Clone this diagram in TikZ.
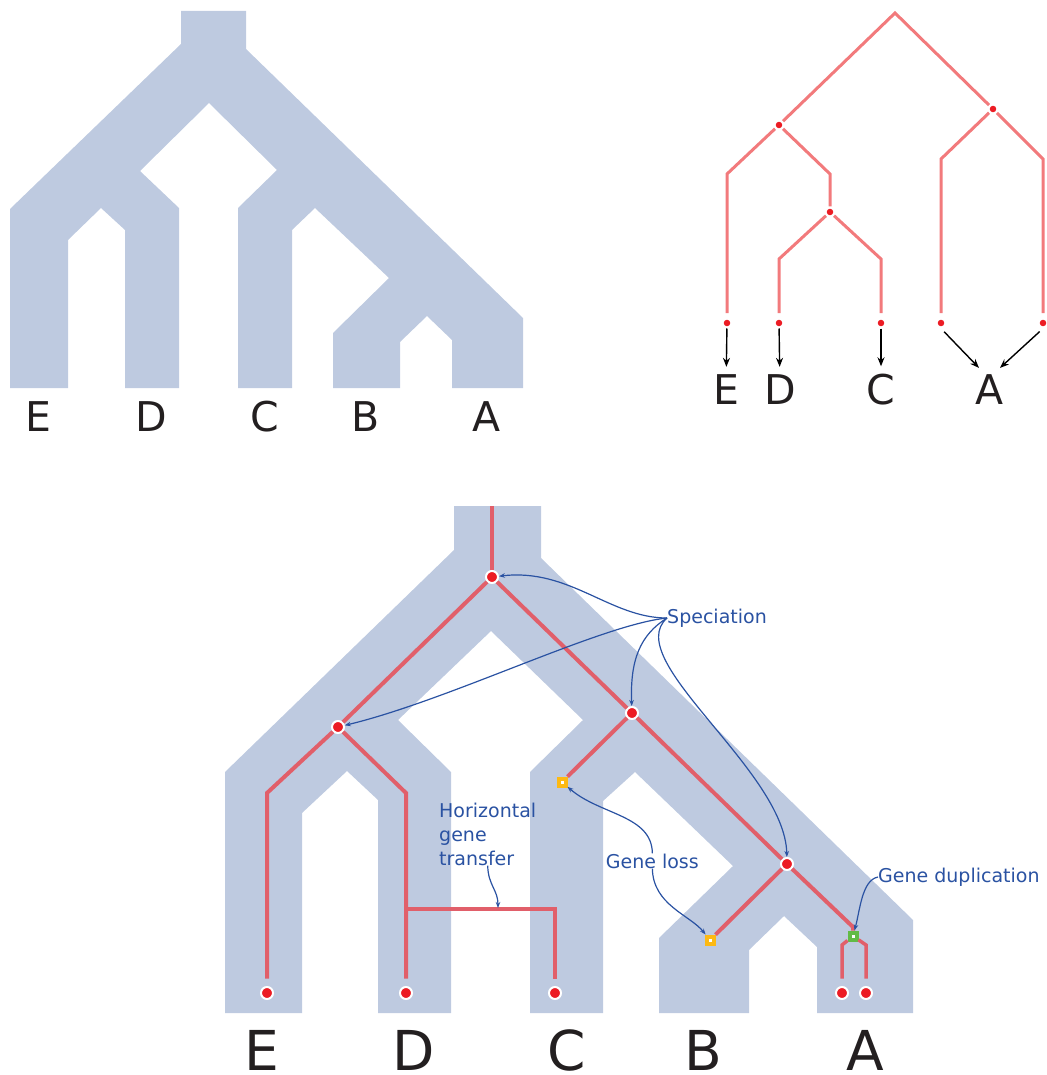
\documentclass[tikz,border=0pt]{standalone}
\usepackage{fontspec}
\setmainfont{DejaVu Sans}
\usetikzlibrary{arrows.meta}
\definecolor{bandblue}{RGB}{190,202,224}
\definecolor{genered}{RGB}{225,95,106}
\definecolor{treered}{RGB}{242,122,124}
\definecolor{dotred}{RGB}{236,28,36}
\definecolor{lossorange}{RGB}{253,185,19}
\definecolor{dupgreen}{RGB}{98,187,70}
\definecolor{noteblue}{RGB}{42,82,162}
\definecolor{taxonblack}{RGB}{35,31,32}
\begin{document}
\begin{tikzpicture}[x=1pt,y=-1pt,
		band/.style={fill=bandblue},
		gline/.style={draw=genered,line width=4pt},
		tline/.style={draw=treered,line width=3pt},
		gdot/.style={circle,fill=dotred,draw=white,line width=2pt,minimum size=12pt,inner sep=0pt},
		tdot/.style={circle,fill=dotred,draw=white,line width=2pt,minimum size=9pt,inner sep=0pt},
		lossbox/.style={rectangle,fill=white,draw=lossorange,line width=4pt,minimum size=7pt,inner sep=0pt},
		dupbox/.style={rectangle,fill=white,draw=dupgreen,line width=4pt,minimum size=7pt,inner sep=0pt},
		bigtaxon/.style={text=taxonblack,inner sep=0pt,font=\fontsize{55}{60}\selectfont},
		taxon/.style={text=taxonblack,inner sep=0pt,font=\fontsize{41}{46}\selectfont},
		note/.style={text=noteblue,inner sep=0pt,font=\fontsize{19}{24}\selectfont},
		notearrow/.style={draw=noteblue,line width=1.2pt,-{Stealth[length=6pt,width=4.5pt]}},
		taxonarrow/.style={draw=black,line width=1.4pt,-{Stealth[length=9pt,width=7pt]}}]
		\useasboundingbox (0,0) rectangle (1046,1075);
		
		\fill[band] (181,11) -- (246,11) -- (246,49) -- (523,318) -- (523,388) -- (452,388) -- (452,340) -- (427,316) -- (400,342) -- (400,388) -- (333,388) -- (333,333) -- (389,278) -- (315,208) -- (292,230) -- (292,388) -- (238,388) -- (238,208) -- (277,170) -- (209,103) -- (140,171) -- (179,208) -- (179,388) -- (125,388) -- (125,230) -- (101,208) -- (68,240) -- (68,388) -- (10,388) -- (10,209) -- (181,44) -- cycle;
		\node[taxon] (sE) at (38,417) {E};
		\node[taxon] (sD) at (151,417) {D};
		\node[taxon] (sC) at (265,417) {C};
		\node[taxon] (sB) at (366,417) {B};
		\node[taxon] (sA) at (487,417) {A};
		
		\coordinate (t0) at (895,13);
		\node[tdot] (tL) at (779,125) {};
		\node[tdot] (tR) at (993,109) {};
		\node[tdot] (tM) at (830,212) {};
		\coordinate (tLa) at (727,174);
		\coordinate (tLb) at (830,174);
		\coordinate (tMa) at (779,259);
		\coordinate (tMb) at (881,259);
		\coordinate (tRa) at (941,159);
		\coordinate (tRb) at (1043,159);
		\node[tdot] (te) at (727,323) {};
		\node[tdot] (td) at (779,323) {};
		\node[tdot] (tc) at (881,323) {};
		\node[tdot] (ta1) at (941,323) {};
		\node[tdot] (ta2) at (1043,323) {};
		\node[taxon] (tE) at (726,390) {E};
		\node[taxon] (tD) at (780,390) {D};
		\node[taxon] (tC) at (881,390) {C};
		\node[taxon] (tA) at (990,390) {A};
		
		\draw[tline] (tL) -- (t0) -- (tR);
		\draw[tline,shorten >=4.5pt] (tL) -- (tLa) -- (te);
		\draw[tline] (tL) -- (tLb) -- (tM);
		\draw[tline,shorten >=4.5pt] (tM) -- (tMa) -- (td);
		\draw[tline,shorten >=4.5pt] (tM) -- (tMb) -- (tc);
		\draw[tline,shorten >=4.5pt] (tR) -- (tRa) -- (ta1);
		\draw[tline,shorten >=4.5pt] (tR) -- (tRb) -- (ta2);
		\draw[taxonarrow,shorten >=8pt] (te) -- (tE);
		\draw[taxonarrow,shorten >=8pt] (td) -- (tD);
		\draw[taxonarrow,shorten >=8pt] (tc) -- (tC);
		\draw[taxonarrow,shorten <=4.5pt,shorten >=9.7pt] (ta1.south) -- ([xshift=-4.3pt]tA.north);
		\draw[taxonarrow,shorten <=4.5pt,shorten >=10.3pt] (ta2.south) -- ([xshift=2.4pt]tA.north);
		
		\fill[band] (454,506) -- (541,506) -- (541,558) -- (913,920) -- (913,1013) -- (817,1013) -- (817,947) -- (784,916) -- (749,950) -- (749,1013) -- (659,1013) -- (659,938) -- (733,866) -- (635,772) -- (603,801) -- (603,1013) -- (530,1013) -- (530,772) -- (583,720) -- (491,631) -- (398,720) -- (451,772) -- (451,1013) -- (378,1013) -- (378,800) -- (347,771) -- (302,813) -- (302,1013) -- (225,1013) -- (225,772) -- (454,550) -- cycle;
		
		\coordinate (top) at (492,506);
		\node[gdot] (r) at (492,577) {};
		\node[gdot] (n1) at (338,727) {};
		\node[gdot] (n2) at (632,713) {};
		\node[gdot] (n3) at (787,864) {};
		\node[lossbox] (l1) at (562,782) {};
		\node[lossbox] (l2) at (710,940) {};
		\node[dupbox] (g) at (853,936) {};
		\coordinate (cE) at (267,793);
		\coordinate (cD) at (406,793);
		\coordinate (hD) at (406,909);
		\coordinate (hC) at (555,909);
		\coordinate (gT) at (853,927);
		\coordinate (gL) at (842,945);
		\coordinate (gR) at (866,945);
		\node[gdot] (E) at (267,993) {};
		\node[gdot] (D) at (406,993) {};
		\node[gdot] (C) at (555,993) {};
		\node[gdot] (A1) at (842,993) {};
		\node[gdot] (A2) at (866,993) {};
		\node[bigtaxon] (bE) at (262,1050) {E};
		\node[bigtaxon] (bD) at (414,1050) {D};
		\node[bigtaxon] (bC) at (567,1050) {C};
		\node[bigtaxon] (bB) at (703,1050) {B};
		\node[bigtaxon] (bA) at (865,1050) {A};
		
		\draw[gline] (top) -- (r);
		\draw[gline] (n1) -- (r) -- (n2);
		\draw[gline,shorten >=7.5pt] (n1) -- (cE) -- (E);
		\draw[gline,shorten >=7.5pt] (n1) -- (cD) -- (D);
		\draw[gline,shorten >=7.5pt] (hD) -- (hC) -- (C);
		\draw[gline] (n2) -- (l1);
		\draw[gline] (n2) -- (n3);
		\draw[gline] (n3) -- (l2);
		\draw[gline] (n3) -- (gT) -- (g);
		\draw[gline,line width=3.5pt,shorten >=7.5pt] (g) -- (gL) -- (A1);
		\draw[gline,line width=3.5pt,shorten >=7.5pt] (g) -- (gR) -- (A2);
		
		\node[note,anchor=west] (spec) at (667,618) {Speciation};
		\node[note,anchor=east] (loss) at (699,861) {Gene loss};
		\node[note,anchor=west] (dup) at (878,877) {Gene duplication};
		\node[note,anchor=west,align=left] (hgt) at (439,834) {Horizontal\\gene\\transfer};
		\coordinate (hm) at (498,908);
		
		\draw[notearrow] (spec.west) .. controls (610,618) and (570,568) .. (r);
		\draw[notearrow] (spec.west) .. controls (600,625) and (450,700) .. (n1);
		\draw[notearrow] (spec.west) .. controls (640,635) and (630,660) .. (n2);
		\draw[notearrow] (spec.west) .. controls (620,660) and (785,770) .. (n3);
		\draw[notearrow] (loss.north) .. controls (652,815) and (600,815) .. (l1);
		\draw[notearrow] (loss.south) .. controls (653,905) and (690,915) .. (l2);
		\draw[notearrow] (dup.west) .. controls (862,880) and (860,910) .. (g);
		\draw[notearrow] (hgt.south) .. controls (488,885) and (498,890) .. (hm);
		\end{tikzpicture}
\end{document}
